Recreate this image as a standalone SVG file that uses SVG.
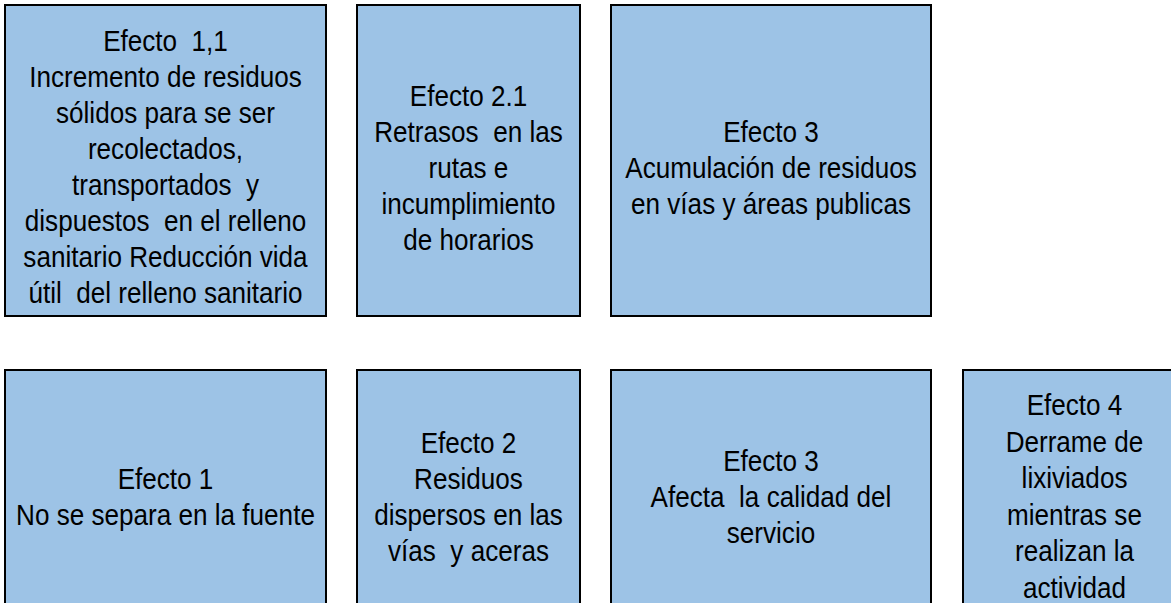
<svg xmlns="http://www.w3.org/2000/svg" width="1171" height="603" viewBox="0 0 1171 603">
<style>
.box{fill:#9DC3E6;stroke:#000;stroke-width:2}
.t{font-family:"Liberation Sans",Arial,sans-serif;font-size:29px;fill:#000;text-anchor:middle;white-space:pre}
</style>
<rect width="1171" height="603" fill="#fff"/>
<g id="connectors"/>
<g id="n1">
<rect class="box" x="5" y="5" width="321" height="311"/>
<g transform="translate(165.5 0) scale(0.9 1)">
<text class="t" x="0" y="51">Efecto  1,1</text>
<text class="t" x="0" y="87">Incremento de residuos</text>
<text class="t" x="0" y="123">sólidos para se ser</text>
<text class="t" x="0" y="159">recolectados,</text>
<text class="t" x="0" y="195">transportados  y</text>
<text class="t" x="0" y="231">dispuestos  en el relleno</text>
<text class="t" x="0" y="267">sanitario Reducción vida</text>
<text class="t" x="0" y="303">útil  del relleno sanitario</text>
</g>
</g>
<g id="n2">
<rect class="box" x="357" y="5" width="223" height="311"/>
<g transform="translate(468.5 0) scale(0.9 1)">
<text class="t" x="0" y="106.5">Efecto 2.1</text>
<text class="t" x="0" y="142.5">Retrasos  en las</text>
<text class="t" x="0" y="178.5">rutas e</text>
<text class="t" x="0" y="214.5">incumplimiento</text>
<text class="t" x="0" y="250.5">de horarios</text>
</g>
</g>
<g id="n3">
<rect class="box" x="611" y="5" width="320" height="311"/>
<g transform="translate(771 0) scale(0.9 1)">
<text class="t" x="0" y="142.5">Efecto 3</text>
<text class="t" x="0" y="178.5">Acumulación de residuos</text>
<text class="t" x="0" y="214">en vías y áreas publicas</text>
</g>
</g>
<g id="n4">
<rect class="box" x="5" y="370" width="321" height="245"/>
<g transform="translate(165.5 0) scale(0.9 1)">
<text class="t" x="0" y="489.5">Efecto 1</text>
<text class="t" x="0" y="525.5">No se separa en la fuente</text>
</g>
</g>
<g id="n5">
<rect class="box" x="357" y="370" width="223" height="245"/>
<g transform="translate(468.5 0) scale(0.9 1)">
<text class="t" x="0" y="453">Efecto 2</text>
<text class="t" x="0" y="489">Residuos</text>
<text class="t" x="0" y="525">dispersos en las</text>
<text class="t" x="0" y="561">vías  y aceras</text>
</g>
</g>
<g id="n6">
<rect class="box" x="611" y="370" width="320" height="245"/>
<g transform="translate(771 0) scale(0.9 1)">
<text class="t" x="0" y="471">Efecto 3</text>
<text class="t" x="0" y="507">Afecta  la calidad del</text>
<text class="t" x="0" y="543">servicio</text>
</g>
</g>
<g id="n7">
<rect class="box" x="963" y="370" width="223" height="245"/>
<g transform="translate(1074.5 0) scale(0.9 1)">
<text class="t" x="0" y="415.5">Efecto 4</text>
<text class="t" x="0" y="452">Derrame de</text>
<text class="t" x="0" y="488.5">lixiviados</text>
<text class="t" x="0" y="525">mientras se</text>
<text class="t" x="0" y="561.5">realizan la</text>
<text class="t" x="0" y="598">actividad</text>
</g>
</g>
</svg>
